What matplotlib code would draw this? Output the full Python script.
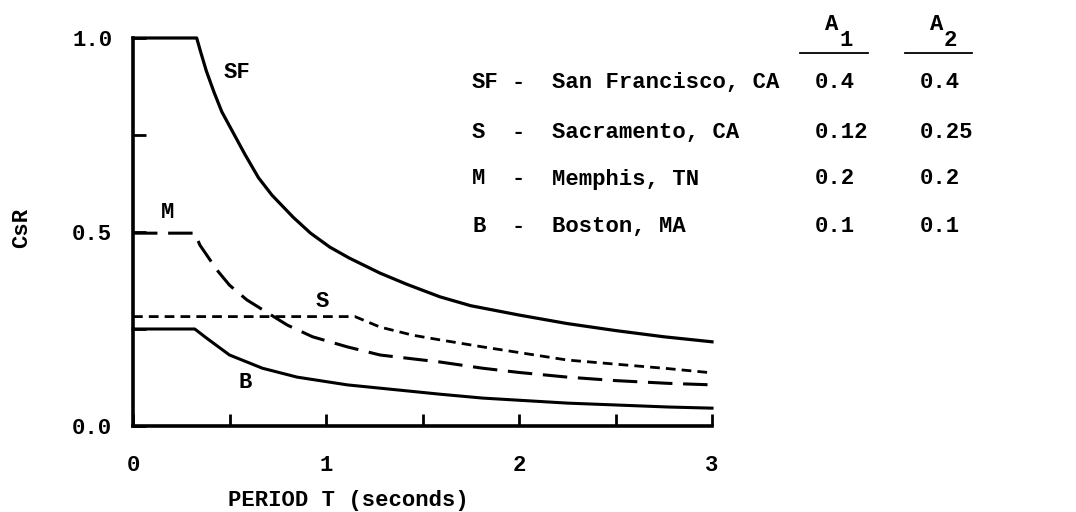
import matplotlib
matplotlib.use("Agg")
import matplotlib.pyplot as plt
from matplotlib.lines import Line2D

plt.rcParams['font.family'] = ['Liberation Mono', 'DejaVu Sans Mono']
plt.rcParams['font.weight'] = 'bold'
plt.rcParams['axes.labelweight'] = 'bold'

# curves: period T (s) vs CsR
t_sf = [0, 0.33, 0.35, 0.38, 0.42, 0.46, 0.52, 0.58, 0.65, 0.72, 0.83, 0.92, 1.02, 1.12, 1.28, 1.42, 1.59, 1.75, 2.0, 2.25, 2.5, 2.75, 3.0]
v_sf = [1.0, 1.0, 0.965, 0.915, 0.86, 0.81, 0.755, 0.70, 0.64, 0.595, 0.538, 0.497, 0.461, 0.433, 0.394, 0.365, 0.333, 0.31, 0.286, 0.264, 0.246, 0.23, 0.217]

t_m = [0, 0.32, 0.347, 0.435, 0.50, 0.59, 0.69, 0.80, 0.93, 1.11, 1.28, 1.45, 1.59, 1.81, 2.0, 2.25, 2.5, 2.77, 3.0]
v_m = [0.497, 0.497, 0.466, 0.402, 0.363, 0.325, 0.294, 0.26, 0.23, 0.204, 0.183, 0.173, 0.165, 0.149, 0.138, 0.126, 0.117, 0.11, 0.106]

t_s = [0, 1.15, 1.28, 1.45, 1.59, 1.81, 2.25, 2.77, 3.0]
v_s = [0.282, 0.282, 0.255, 0.234, 0.222, 0.204, 0.17, 0.148, 0.137]

t_b = [0, 0.32, 0.38, 0.50, 0.67, 0.85, 1.11, 1.37, 1.59, 1.81, 2.25, 2.77, 3.0]
v_b = [0.25, 0.25, 0.227, 0.183, 0.149, 0.126, 0.106, 0.093, 0.082, 0.072, 0.059, 0.049, 0.046]

curve_names = ["SF", "M", "S", "B"]
label_pos = [(0.54, 0.91), (0.18, 0.55), (0.98, 0.32), (0.58, 0.113)]

# table on the right
abbrev = ["SF", "S", "M", "B"]
cities = ["San Francisco, CA", "Sacramento, CA", "Memphis, TN", "Boston, MA"]
a1 = ["0.4", "0.12", "0.2", "0.1"]
a2 = ["0.4", "0.25", "0.2", "0.1"]

W, H = 1076, 512
FS = 16
fig = plt.figure(figsize=(W / 100, H / 100), dpi=100)
ax = fig.add_axes([133 / W, 86 / H, 579 / W, 388 / H])

ax.plot(t_sf, v_sf, color="black", lw=2.3, clip_on=False)
ax.plot(t_m, v_m, color="black", lw=2.2, dashes=(8, 3.5), clip_on=False)
ax.plot(t_s, v_s, color="black", lw=2.0, dashes=(3.5, 2.2), clip_on=False)
ax.plot(t_b, v_b, color="black", lw=2.2, clip_on=False)

for name, (x, y) in zip(curve_names, label_pos):
    ax.text(x, y, name, fontsize=FS, ha="center", va="center")

ax.set_xlim(0, 3)
ax.set_ylim(0, 1.0)
ax.spines["top"].set_visible(False)
ax.spines["right"].set_visible(False)
for s in ["left", "bottom"]:
    ax.spines[s].set_linewidth(2.6)
    ax.spines[s].set_capstyle("projecting")

ax.set_xticks([0, 1, 2, 3])
ax.set_xticks([0.5, 1.5, 2.5], minor=True)
ax.set_yticks([0.0, 0.5, 1.0])
ax.set_yticklabels(["0.0", "0.5", "1.0"])
ax.set_yticks([0.25, 0.75], minor=True)
ax.tick_params(axis="both", which="both", direction="in", length=9, width=2)
ax.tick_params(axis="x", which="major", pad=21, labelsize=FS)
ax.tick_params(axis="y", which="major", pad=15, labelsize=FS)

ax.set_xlabel("PERIOD T (seconds)", fontsize=FS)
ax.xaxis.set_label_coords(0.372, -0.165)
ax.set_ylabel("CsR", fontsize=FS)
ax.yaxis.set_label_coords(-0.174, 0.51)

# table
row_y = [83, 132, 179, 227]
for y, ab, city, v1, v2 in zip(row_y, abbrev, cities, a1, a2):
    fy = 1 - y / H
    fig.text(472 / W, fy, ab, fontsize=FS, ha="left", va="center")
    fig.text(518 / W, fy, "-", fontsize=FS, ha="center", va="center")
    fig.text(552 / W, fy, city, fontsize=FS, ha="left", va="center")
    fig.text(815 / W, fy, v1, fontsize=FS, ha="left", va="center")
    fig.text(920 / W, fy, v2, fontsize=FS, ha="left", va="center")

for x0, x1, sub in [(800, 868, "1"), (905, 972, "2")]:
    xc = (x0 + x1) / 2
    fig.text((xc - 2) / W, 1 - 24 / H, "A", fontsize=FS, ha="center", va="center")
    fig.text((xc + 12) / W, 1 - 41 / H, sub, fontsize=FS, ha="center", va="center")
    fig.add_artist(Line2D([x0 / W, x1 / W], [1 - 53 / H, 1 - 53 / H], color="black", lw=1.3))

fig.savefig("out.png", dpi=100)
